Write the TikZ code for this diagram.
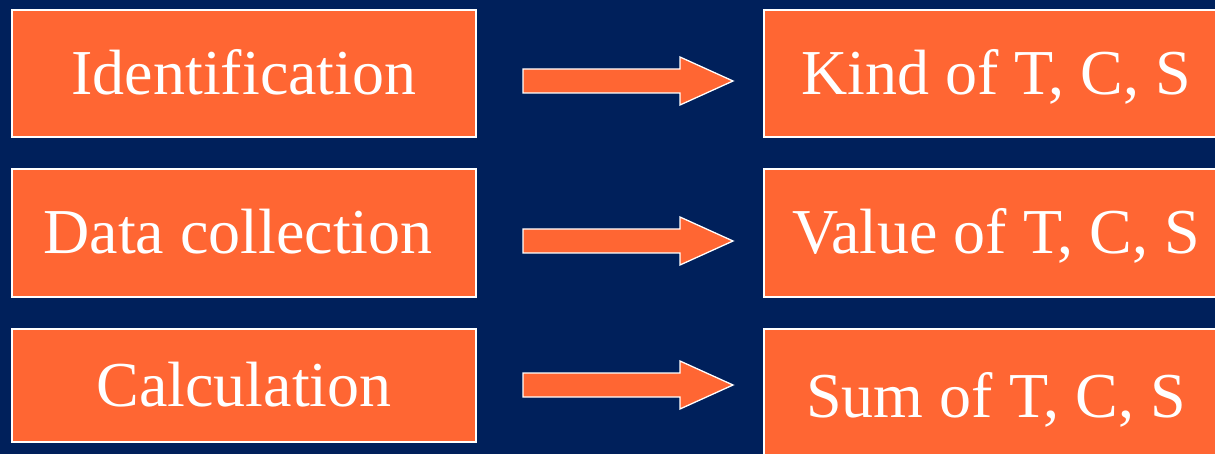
\documentclass[tikz,border=0pt]{standalone}
\usepackage{fontspec}
\setmainfont{Liberation Serif}
\definecolor{navy}{RGB}{0,32,91}
\definecolor{orng}{RGB}{255,102,51}
\begin{document}
\begin{tikzpicture}[x=1pt,y=-1pt,
  box/.style={draw=white,line width=1.3pt,fill=orng,text=white,inner sep=0pt,
    text height=42pt,text depth=0pt,
    font=\fontsize{64}{76}\selectfont},
  blockarrow/.style={draw=white,line width=1.3pt,fill=orng}]
\clip (0,0) rectangle (1215,454);
\fill[navy] (0,0) rectangle (1215,454);
% left boxes
\node[box,minimum width=464pt,minimum height=127pt] (l1) at (244,73.5) {Identification};
\node[box,minimum width=464pt,minimum height=128pt] (l2) at (244,233) {Data collection\hspace*{12pt}};
\node[box,minimum width=464pt,minimum height=113pt] (l3) at (244,385.5) {Calculation};
% right boxes
\node[box,minimum width=464pt,minimum height=127pt] (r1) at (996,73.5) {Kind of T, C, S};
\node[box,minimum width=464pt,minimum height=128pt] (r2) at (996,233) {Value of T, C, S};
\node[box,minimum width=464pt,minimum height=134pt] (r3) at (996,396) {Sum of T, C, S};
% block arrows
\foreach \y in {81,241,385}{
  \filldraw[blockarrow] (523,\y-12) -- (680,\y-12) -- (680,\y-24) -- (733,\y)
    -- (680,\y+24) -- (680,\y+12) -- (523,\y+12) -- cycle;
}
\end{tikzpicture}
\end{document}
